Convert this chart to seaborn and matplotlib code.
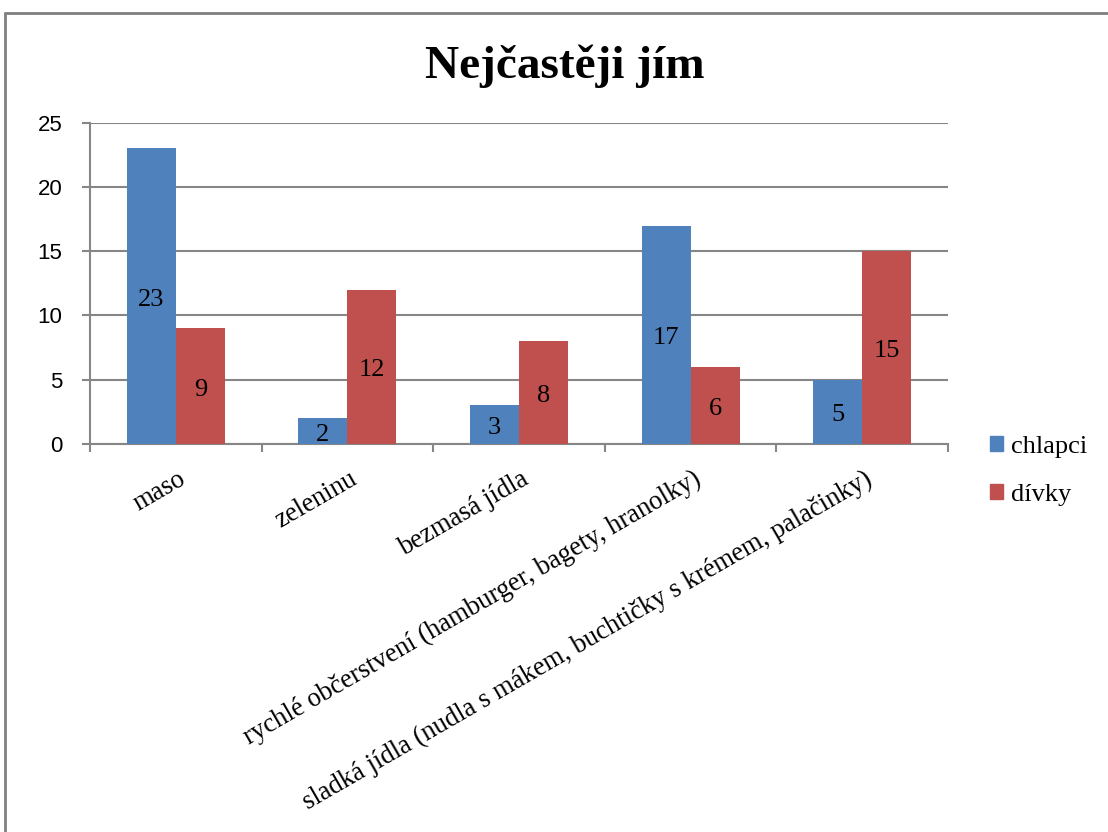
import matplotlib
matplotlib.use("Agg")
import matplotlib.pyplot as plt
import matplotlib.transforms as mtransforms
import seaborn as sns
import pandas as pd
from matplotlib.lines import Line2D
from matplotlib.ticker import FixedLocator

categories = [
    "maso",
    "zeleninu",
    "bezmasá jídla",
    "rychlé občerstvení (hamburger, bagety, hranolky)",
    "sladká jídla (nudla s mákem, buchtičky s krémem, palačinky)",
]
chlapci = [23, 2, 3, 17, 5]
divky = [9, 12, 8, 6, 15]
series_names = ["chlapci", "dívky"]
yticks = [0, 5, 10, 15, 20, 25]
title = "Nejčastěji jím"

df = pd.DataFrame({
    "kategorie": categories * 2,
    "pohlaví": [series_names[0]] * len(categories) + [series_names[1]] * len(categories),
    "počet": chlapci + divky,
})

sns.set_theme(style="white")
serif = ["Liberation Serif", "DejaVu Serif"]
sans = ["Liberation Sans", "DejaVu Sans"]
grid_col = "#868686"
colors = ["#4F81BD", "#C0504D"]

fig = plt.figure(figsize=(11.08, 8.32), dpi=100)
ax = fig.add_axes([90 / 1108, 1 - 444 / 832, (948 - 90) / 1108, (444 - 122.7) / 832])

sns.barplot(
    data=df, x="kategorie", y="počet", hue="pohlaví",
    palette=colors, width=0.57, gap=0,
    linewidth=0, saturation=1, ax=ax, legend=False, zorder=3,
)

# value labels centred inside each bar, nudged slightly down
for cont in ax.containers:
    for t in ax.bar_label(cont, label_type="center", fontsize=19, family=serif, color="black"):
        t.xyann = (0, -2.5)

ax.set_xlim(-0.5, len(categories) - 0.5)
ax.set_ylim(0, 25)
ax.set_yticks(yticks)
ax.set_yticklabels([str(v) for v in yticks], family=sans, fontsize=16, color="black")
ax.yaxis.grid(True, color=grid_col, linewidth=1.5, zorder=0)
ax.set_axisbelow(True)

ax.set_xticks(range(len(categories)))
ax.set_xticklabels(categories, rotation=30, ha="right", va="center",
                   rotation_mode="anchor", family=serif, fontsize=19.2, color="black")
ax.xaxis.set_minor_locator(FixedLocator([i - 0.5 for i in range(len(categories) + 1)]))
ax.tick_params(axis="x", which="major", length=0, pad=24)
ax.tick_params(axis="x", which="minor", length=6, width=1.5, color=grid_col, direction="out", bottom=True)
ax.tick_params(axis="y", length=6, width=1.5, color=grid_col, direction="out", left=True, pad=14)

# category labels sit slightly right of the category centre
offset = mtransforms.ScaledTranslation(8 / 100, 0, fig.dpi_scale_trans)
for lab in ax.get_xticklabels():
    lab.set_transform(lab.get_transform() + offset)

ax.set_xlabel("")
ax.set_ylabel("")
for s in ["top", "right"]:
    ax.spines[s].set_visible(False)
for s in ["left", "bottom"]:
    ax.spines[s].set_color(grid_col)
    ax.spines[s].set_linewidth(1.5)

handles = [plt.Rectangle((0, 0), 1, 1, color=c) for c in colors]
fig.legend(handles, series_names, loc="upper left", bbox_to_anchor=(966 / 1108, 1 - 412 / 832),
           frameon=False, prop={"family": serif, "size": 19}, handlelength=0.5, handleheight=0.5,
           handletextpad=0.3, labelspacing=1.0, labelcolor="black")

fig.text(565 / 1108, 1 - 78 / 832, title, ha="center", va="baseline",
         family=serif, fontsize=34, fontweight="bold", color="black")

# chart frame
fig.add_artist(Line2D([5 / 1108, 5 / 1108], [0, 1 - 13 / 832], transform=fig.transFigure,
                      color="#808080", linewidth=2))
fig.add_artist(Line2D([5 / 1108, 1], [1 - 13 / 832, 1 - 13 / 832], transform=fig.transFigure,
                      color="#808080", linewidth=2))

fig.savefig("out.png", dpi=100)
